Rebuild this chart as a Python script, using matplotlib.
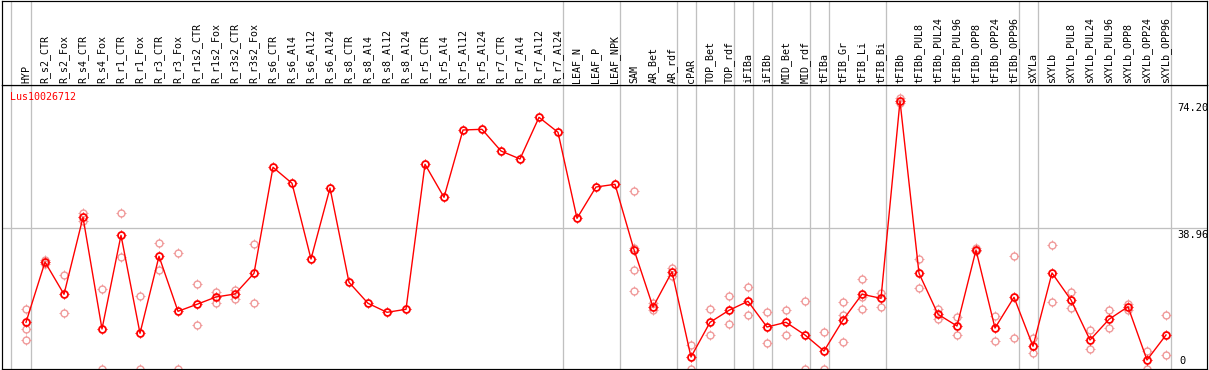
import matplotlib
matplotlib.use("Agg")
import matplotlib.pyplot as plt
import matplotlib.transforms as mtransforms
from matplotlib.path import Path
import numpy as np

gene = "Lus10026712"

samples = [
    "HYP", "R_s2_CTR", "R_s2_Fox", "R_s4_CTR", "R_s4_Fox", "R_r1_CTR", "R_r1_Fox",
    "R_r3_CTR", "R_r3_Fox", "R_r1s2_CTR", "R_r1s2_Fox", "R_r3s2_CTR", "R_r3s2_Fox",
    "R_s6_CTR", "R_s6_Al4", "R_s6_Al12", "R_s6_Al24", "R_s8_CTR", "R_s8_Al4",
    "R_s8_Al12", "R_s8_Al24", "R_r5_CTR", "R_r5_Al4", "R_r5_Al12", "R_r5_Al24",
    "R_r7_CTR", "R_r7_Al4", "R_r7_Al12", "R_r7_Al24", "LEAF_N", "LEAF_P", "LEAF_NPK",
    "SAM", "AR_Bet", "AR_rdf", "cPAR", "TOP_Bet", "TOP_rdf", "iFIBa", "iFIBb",
    "MID_Bet", "MID_rdf", "tFIBa", "tFIB_Gr", "tFIB_Li", "tFIB_Bi", "tFIBb",
    "tFIBb_PUL8", "tFIBb_PUL24", "tFIBb_PUL96", "tFIBb_OPP8", "tFIBb_OPP24",
    "tFIBb_OPP96", "sXYLa", "sXYLb", "sXYLb_PUL8", "sXYLb_PUL24", "sXYLb_PUL96",
    "sXYLb_OPP8", "sXYLb_OPP24", "sXYLb_OPP96",
]

# mean expression per sample
means = [
    12.93, 29.63, 20.69, 42.01, 11.08, 37.03, 9.89, 31.21, 15.98, 17.92, 19.94, 20.77, 26.50,
    55.86, 51.43, 30.46, 50.12, 24.01, 18.19, 15.70, 16.53, 56.69, 47.55, 66.19, 66.38,
    60.37, 58.16, 69.70, 65.55, 41.73, 50.40, 51.15,
    33.04, 17.17, 26.95, 3.32, 12.93, 16.26, 18.75, 11.63, 12.93, 9.42, 4.98, 13.57,
    20.69, 19.58, 74.20, 26.50, 15.15, 11.91, 32.96, 11.35, 19.86, 6.29, 26.59, 19.11,
    8.03, 13.76, 17.25, 2.49, 9.42,
]

# individual replicates per sample
replicates = [
    [16.62, 10.99, 7.95], [30.10, 29.20], [25.95, 15.42], [43.28, 40.99], [22.15, 0.0],
    [43.20, 31.02], [20.22, 0.0], [34.81, 27.33], [32.12, 0.0], [23.46, 12.19],
    [21.24, 18.19], [21.96, 19.47], [34.53, 18.19],
    [], [], [], [], [], [], [], [], [], [], [], [], [], [], [], [], [], [], [],
    [49.21, 33.43, 27.33, 21.60], [18.19, 16.26], [28.05, 25.84], [6.65, 0.0],
    [16.62, 9.33], [20.22, 12.46], [22.71, 14.95], [15.70, 7.20], [16.26, 9.42],
    [18.83, 0.0], [10.25, 0.0], [18.47, 14.95, 7.48], [24.92, 19.86, 16.62],
    [20.96, 17.09], [75.05, 73.58], [30.46, 22.43], [16.62, 13.76], [14.32, 9.33],
    [33.43, 32.68], [14.68, 7.67], [31.21, 8.50], [8.50, 4.35], [34.26, 18.47],
    [21.32, 16.81], [10.80, 5.46], [16.26, 11.27], [18.00, 16.34], [4.98, 0.0],
    [14.95, 3.88],
]

# sample index after which a group separator is drawn
group_ends = [-1.05, 0, 28, 31, 34, 35, 37, 38, 39, 41, 42, 45, 52, 53, 60]

y_marks = [74.20, 38.96, 0]

W, H = 1209, 370
fig = plt.figure(figsize=(W / 100, H / 100), dpi=100)
px = 0.72  # one pixel in points

# little ticks sticking out of the circle markers
r0, r1 = 1.0, 1.45
ticks = Path(
    [(0, r0), (0, r1), (0, -r0), (0, -r1), (r0, 0), (r1, 0), (-r0, 0), (-r1, 0)],
    [Path.MOVETO, Path.LINETO] * 4,
)

x = np.arange(len(samples))
xlim = ((2 - 26) / 19, (1207 - 26) / 19)

# data panel
ax = fig.add_axes([2 / W, 1 / H, 1205 / W, 284 / H])
# header panel with sample names
hx = fig.add_axes([2 / W, 285 / H, 1205 / W, 84 / H])

for a in (ax, hx):
    a.set_xlim(*xlim)
    a.set_xticks([])
    a.set_yticks([])
    for s in a.spines.values():
        s.set_linewidth(px * 1.2)
        s.set_color("black")
    for g in group_ends:
        a.axvline(g + 0.25, color="#c0c0c0", lw=px * 1.3, zorder=0)

ax.set_ylim(0, 284 / 3.611)
hx.set_ylim(0, 1)

ax.axhline(38.96, color="#c0c0c0", lw=px * 1.3, zorder=0)

rx = [i for i, r in enumerate(replicates) for _ in r]
ry = [v for r in replicates for v in r]
ax.plot(rx, ry, ls="none", marker="o", ms=5.0, mfc="none", mec="#f09a9a", mew=1.0, zorder=2)
ax.plot(rx, ry, ls="none", marker=ticks, ms=7.2, mec="#f09a9a", mew=0.7, zorder=2)

ax.plot(x, means, color="#ff0000", lw=1.0, zorder=3)
ax.plot(x, means, ls="none", marker="o", ms=5.0, mfc="none", mec="#ff0000", mew=1.3, zorder=4)
ax.plot(x, means, ls="none", marker=ticks, ms=7.4, mec="#ff0000", mew=0.8, zorder=4)

ax.text(8 / 1205, 1 - 12 / 284, gene, transform=ax.transAxes, color="#ff0000",
        family="DejaVu Sans Mono", fontsize=7.2, va="center", ha="left")

tr = mtransforms.blended_transform_factory(ax.transAxes, ax.transData)
for v in y_marks:
    if v == 0:
        ax.text(1177 / 1205, v + 0.8, "0", transform=tr, family="DejaVu Sans Mono",
                fontsize=7.5, va="bottom", ha="left")
    else:
        ax.text(1175 / 1205, v - 0.4, f"{v:.2f}", transform=tr, family="DejaVu Sans Mono",
                fontsize=7.5, va="top", ha="left")

for i, name in enumerate(samples):
    hx.text(i, 2 / 84, name, rotation=90, family="DejaVu Sans Mono", fontsize=7.2,
            ha="center", va="bottom")

fig.savefig("out.png", dpi=100)
